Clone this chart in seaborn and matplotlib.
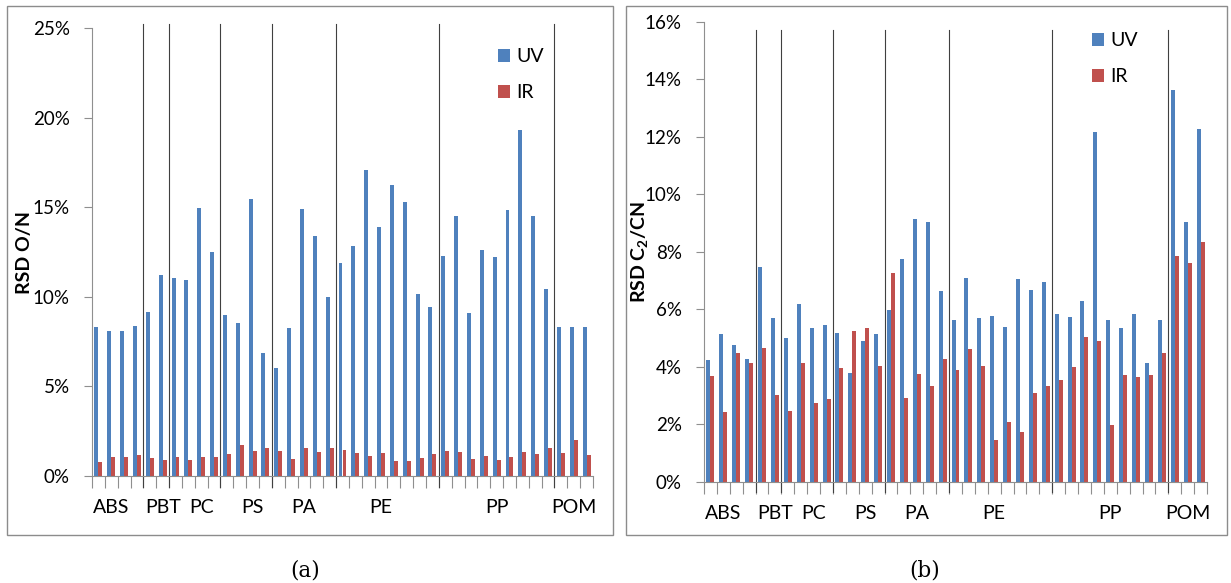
import matplotlib as mpl
import matplotlib.pyplot as plt
import seaborn as sns
import pandas as pd
import numpy as np
from matplotlib.ticker import PercentFormatter, FixedLocator
from matplotlib.patches import Rectangle

## ---------------- DATOS ---------------- ##

grupos = ['ABS', 'PBT', 'PC', 'PS', 'PA', 'PE', 'PP', 'POM']
n_por_grupo = [4, 2, 4, 4, 5, 8, 9, 3]

# etiquetas del eje X (Excel: una sola categoria con nombre por grupo)
categorias = ['', 'ABS', '', '',
              '', 'PBT',
              '', '', 'PC', '',
              '', '', 'PS', '',
              '', '', 'PA', '', '',
              '', '', '', 'PE', '', '', '', '',
              '', '', '', '', 'PP', '', '', '', '',
              '', 'POM', '']

on_uv = [8.31, 8.06, 8.10, 8.37,
         9.17, 11.19,
         11.05, 10.96, 14.97, 12.51,
         9.00, 8.54, 15.44, 6.85,
         6.02, 8.23, 14.93, 13.41, 10.00,
         11.88, 12.84, 17.10, 13.89, 16.25, 15.27, 10.13, 9.40,
         12.30, 14.52, 9.11, 12.59, 12.24, 14.83, 19.32, 14.52, 10.46,
         8.31, 8.31, 8.31]
on_ir = [0.77, 1.06, 1.06, 1.13,
         1.00, 0.90,
         1.06, 0.90, 1.06, 1.06,
         1.19, 1.73, 1.36, 1.57,
         1.36, 0.96, 1.53, 1.32, 1.57,
         1.46, 1.29, 1.09, 1.29, 0.83, 0.83, 1.00, 1.23,
         1.40, 1.32, 0.96, 1.09, 0.90, 1.06, 1.32, 1.19, 1.57,
         1.29, 1.98, 1.13]

c2_uv = [4.23, 5.13, 4.77, 4.26,
         7.46, 5.68,
         5.01, 6.18, 5.34, 5.45,
         5.17, 3.78, 4.90, 5.13,
         5.96, 7.74, 9.14, 9.04, 6.65,
         5.64, 7.10, 5.68, 5.75, 5.37, 7.04, 6.68, 6.96,
         5.84, 5.74, 6.30, 12.17, 5.64, 5.34, 5.84, 4.12, 5.62,
         13.62, 9.04, 12.28]
c2_ir = [3.66, 2.42, 4.46, 4.14,
         4.65, 3.03,
         2.47, 4.12, 2.73, 2.86,
         3.94, 5.23, 5.34, 4.04,
         7.25, 2.91, 3.76, 3.34, 4.26,
         3.87, 4.62, 4.04, 1.44, 2.06, 1.72, 3.07, 3.34,
         3.53, 4.00, 5.05, 4.90, 1.98, 3.70, 3.64, 3.70, 4.48,
         7.86, 7.59, 8.32]

AZUL = '#4F81BD'
ROJO = '#C0504D'
GRIS = '#8f8f8f'


def armar_df(uv, ir):
  n = len(uv)
  return pd.DataFrame({
    'idx': list(range(n)) * 2,
    'serie': ['UV'] * n + ['IR'] * n,
    'valor': list(uv) + list(ir),
  })


## --------------- GRAFICO DE BARRAS ---------- ##

def barras(ax, df, ymax, paso, ylabel, ylabel_x, leg_xy, sep_lims):

  sns.barplot(data=df, x='idx', y='valor', hue='serie', hue_order=['UV', 'IR'],
              palette=[AZUL, ROJO], width=0.62, saturation=1, errorbar=None,
              linewidth=0, ax=ax)

  ax.set_xlim(-0.5, len(categorias) - 0.5)
  ax.set_ylim(0, ymax)
  ax.set_yticks(np.arange(0, ymax + 0.001, paso))
  ax.yaxis.set_major_formatter(PercentFormatter(100, decimals=0))

  ax.set_xticks(range(len(categorias)))
  ax.set_xticklabels(categorias)
  ax.xaxis.set_minor_locator(FixedLocator(np.arange(-0.5, len(categorias), 1)))
  ax.tick_params(axis='x', which='major', length=0, pad=17, labelsize=14)
  ax.tick_params(axis='x', which='minor', length=8.3, color=GRIS, width=0.8)
  ax.tick_params(axis='y', length=6, color=GRIS, width=0.8, labelsize=13.5, pad=10)
  ax.set_xlabel('')
  ax.set_ylabel(ylabel, fontweight='bold', fontsize=14)
  ax.yaxis.set_label_coords(ylabel_x, 0.5)

  for s in ['top', 'right']:
    ax.spines[s].set_visible(False)
  for s in ['left', 'bottom']:
    ax.spines[s].set_color(GRIS)
    ax.spines[s].set_linewidth(0.8)

  # separadores entre grupos
  for b in np.cumsum(n_por_grupo)[:-1]:
    ax.axvline(b - 0.5, ymin=sep_lims[0], ymax=sep_lims[1], color='#404040',
               linewidth=0.8, clip_on=False)

  leg = ax.get_legend()
  handles = leg.legend_handles
  labels = [t.get_text() for t in leg.get_texts()]
  ax.legend(handles, labels, loc='upper left', bbox_to_anchor=leg_xy,
            frameon=False, fontsize=14, handlelength=0.63, handleheight=0.63,
            handletextpad=0.3, labelspacing=0.98, borderpad=0, borderaxespad=0)


if __name__ == "__main__":

  plt.rcParams['font.family'] = ['Lato', 'DejaVu Sans']
  plt.rcParams['mathtext.fontset'] = 'custom'
  plt.rcParams['mathtext.bf'] = 'Lato:bold'
  plt.rcParams['mathtext.rm'] = 'Lato:bold'
  plt.rcParams['mathtext.default'] = 'bf'

  fig = plt.figure(figsize=(12.31, 5.83), dpi=100)

  ax1 = fig.add_axes([92 / 1231, 1 - 475.7 / 583, 501 / 1231, 447.4 / 583])
  ax2 = fig.add_axes([704 / 1231, 1 - 481.7 / 583, 503 / 1231, 460 / 583])

  barras(ax1, armar_df(on_uv, on_ir), 25, 5, 'RSD O/N', -0.1178,
         (0.81, 0.955), (-0.025, 1.009))
  barras(ax2, armar_df(c2_uv, c2_ir), 16, 2, r'RSD C$_2$/CN', -0.1074,
         (0.771, 0.977), (-0.022, 0.983))

  # marcos de cada panel
  for x0, x1 in [(7, 613), (626, 1227)]:
    fig.patches.append(Rectangle((x0 / 1231, 1 - 535 / 583), (x1 - x0) / 1231,
                                 529 / 583, transform=fig.transFigure,
                                 fill=False, edgecolor='#8c8c8c', linewidth=1))

  fig.text(305 / 1231, 1 - 570 / 583, '(a)', family='DejaVu Serif', fontsize=15.5,
           ha='center', va='center')
  fig.text(925 / 1231, 1 - 570 / 583, '(b)', family='DejaVu Serif', fontsize=15.5,
           ha='center', va='center')

  plt.savefig('out.png', dpi=100)
